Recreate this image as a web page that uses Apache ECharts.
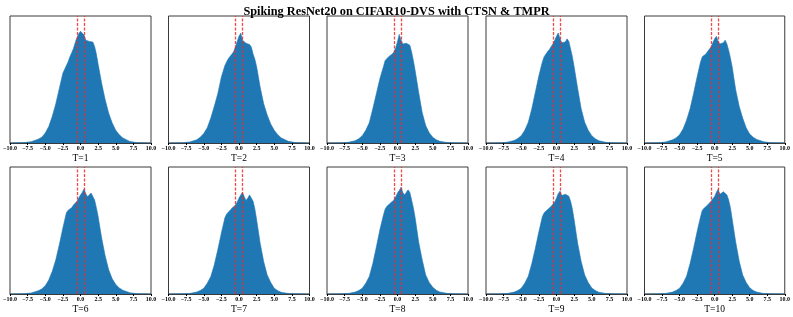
<!DOCTYPE html>
<html><head><meta charset="utf-8">
<script src="https://cdn.jsdelivr.net/npm/echarts@6/dist/echarts.min.js"></script>
<style>html,body{margin:0;padding:0;background:#fff}#c{width:793px;height:317px}</style>
</head><body><div id="c"></div>
<script>
const title = "Spiking ResNet20 on CIFAR10-DVS with CTSN & TMPR";
const panelLabels = ["T=1","T=2","T=3","T=4","T=5","T=6","T=7","T=8","T=9","T=10"];
const xTicks = [-10,-7.5,-5,-2.5,0,2.5,5,7.5,10];
const thresholds = [-0.5, 0.5];
const xs = [-10,-8,-7,-6,-5.5,-5,-4.5,-4,-3.5,-3,-2.5,-2,-1.75,-1.5,-1.25,-1,-0.75,-0.5,-0.25,0,0.25,0.5,0.75,1,1.25,1.5,1.75,2,2.25,2.5,3,3.5,4,4.5,5,5.5,6,7,8,10];
const t1  = [0,0.003,0.01,0.03,0.045,0.078,0.13,0.21,0.31,0.43,0.55,0.61,0.64,0.68,0.71,0.744,0.79,0.83,0.86,0.88,0.895,0.85,0.81,0.80,0.80,0.80,0.795,0.76,0.70,0.62,0.47,0.34,0.235,0.157,0.10,0.065,0.04,0.012,0.003,0];
const t2  = [0,0.002,0.008,0.025,0.045,0.075,0.12,0.196,0.29,0.39,0.52,0.61,0.64,0.666,0.68,0.70,0.72,0.757,0.80,0.84,0.865,0.81,0.795,0.785,0.78,0.775,0.755,0.70,0.66,0.60,0.44,0.31,0.22,0.15,0.10,0.065,0.04,0.013,0.003,0];
const t3  = [0,0.001,0.005,0.018,0.033,0.058,0.10,0.16,0.27,0.387,0.505,0.60,0.65,0.665,0.68,0.69,0.70,0.716,0.75,0.80,0.855,0.81,0.78,0.77,0.785,0.79,0.77,0.716,0.65,0.57,0.40,0.24,0.137,0.08,0.045,0.025,0.013,0.004,0.001,0];
const t4  = [0,0.001,0.006,0.02,0.035,0.058,0.10,0.163,0.27,0.40,0.53,0.64,0.68,0.70,0.72,0.737,0.76,0.78,0.81,0.84,0.866,0.82,0.79,0.78,0.795,0.82,0.80,0.74,0.68,0.60,0.43,0.27,0.163,0.10,0.058,0.033,0.018,0.005,0.001,0];
const t5  = [0,0.002,0.008,0.025,0.04,0.065,0.11,0.18,0.27,0.39,0.52,0.64,0.68,0.69,0.70,0.72,0.735,0.757,0.79,0.82,0.84,0.80,0.78,0.77,0.79,0.81,0.78,0.73,0.67,0.60,0.42,0.29,0.196,0.12,0.07,0.045,0.028,0.01,0.002,0];
const t6  = [0,0.002,0.008,0.025,0.04,0.065,0.11,0.18,0.27,0.39,0.52,0.64,0.66,0.675,0.68,0.70,0.715,0.73,0.755,0.78,0.80,0.827,0.79,0.765,0.757,0.795,0.80,0.74,0.68,0.61,0.44,0.30,0.19,0.12,0.075,0.048,0.03,0.01,0.002,0];
const t7  = [0,0.001,0.004,0.015,0.027,0.045,0.085,0.137,0.23,0.35,0.48,0.60,0.63,0.645,0.66,0.676,0.69,0.70,0.725,0.755,0.78,0.80,0.765,0.737,0.755,0.78,0.775,0.73,0.67,0.584,0.40,0.255,0.15,0.09,0.045,0.026,0.013,0.004,0.001,0];
const t8  = [0,0.001,0.004,0.015,0.027,0.045,0.085,0.137,0.24,0.37,0.505,0.62,0.67,0.69,0.70,0.716,0.73,0.74,0.765,0.795,0.815,0.84,0.80,0.78,0.80,0.82,0.80,0.74,0.68,0.60,0.41,0.27,0.15,0.09,0.053,0.03,0.016,0.005,0.001,0];
const t9  = [0,0.001,0.004,0.015,0.027,0.045,0.085,0.14,0.24,0.36,0.49,0.61,0.64,0.655,0.665,0.676,0.69,0.70,0.725,0.755,0.79,0.81,0.775,0.768,0.785,0.78,0.77,0.73,0.67,0.584,0.40,0.255,0.15,0.09,0.048,0.027,0.014,0.004,0.001,0];
const t10 = [0,0.001,0.004,0.015,0.027,0.045,0.085,0.14,0.24,0.36,0.49,0.61,0.66,0.676,0.69,0.70,0.715,0.73,0.75,0.768,0.80,0.825,0.785,0.785,0.805,0.80,0.78,0.74,0.68,0.59,0.41,0.26,0.15,0.09,0.05,0.028,0.015,0.004,0.001,0];
const panels = [t1,t2,t3,t4,t5,t6,t7,t8,t9,t10];

const chart = echarts.init(document.getElementById('c'), null, {renderer:'canvas'});
const lefts = [10, 168.5, 327, 486, 644.5];
const tops = [16, 167];
const W = 141, H = 127;
const serif = '"Liberation Serif","Times New Roman",serif';
const grids = [], xAxes = [], yAxes = [], series = [];
panels.forEach((vals, i) => {
  const r = Math.floor(i/5), c = i%5;
  grids.push({left:lefts[c], top:tops[r], width:W, height:H, show:true, borderColor:'#3a3a3a', borderWidth:1, backgroundColor:'transparent'});
  xAxes.push({type:'value', gridIndex:i, min:-10, max:10, interval:2.5,
    name:panelLabels[i], nameLocation:'middle', nameGap:10,
    nameTextStyle:{fontFamily:serif, fontSize:9.5, color:'#000'},
    axisLine:{show:true, lineStyle:{color:'#3a3a3a', width:1}},
    axisTick:{show:true, inside:false, length:2, lineStyle:{color:'#000'}},
    splitLine:{show:false},
    axisLabel:{show:true, margin:2, fontFamily:serif, fontWeight:'bold', fontSize:6, color:'#000',
      formatter:v => (v<0?'\u2212':'') + Math.abs(v).toFixed(1)}});
  yAxes.push({type:'value', gridIndex:i, min:0, max:1, show:false, splitLine:{show:false}});
  series.push({type:'line', xAxisIndex:i, yAxisIndex:i, data: xs.map((x,k)=>[x, vals[k]]),
    showSymbol:false, smooth:false, silent:true, z:2,
    lineStyle:{width:0.6, color:'#1f77b4'}, itemStyle:{color:'#1f77b4'},
    areaStyle:{color:'#1f77b4', opacity:1},
    markLine:{silent:true, symbol:'none', label:{show:false}, animation:false, z:5,
      emphasis:{disabled:true},
      lineStyle:{color:'rgba(235,45,45,0.85)', type:[3,1.5], width:1.3, opacity:1},
      data: thresholds.map(v=>({xAxis:v}))}});
});
chart.setOption({
  animation:false,
  title:{text:title, left:'center', top:1, textStyle:{fontFamily:serif, fontWeight:'bold', fontSize:12.3, color:'#000'}},
  grid:grids, xAxis:xAxes, yAxis:yAxes, series:series
});
</script></body></html>
